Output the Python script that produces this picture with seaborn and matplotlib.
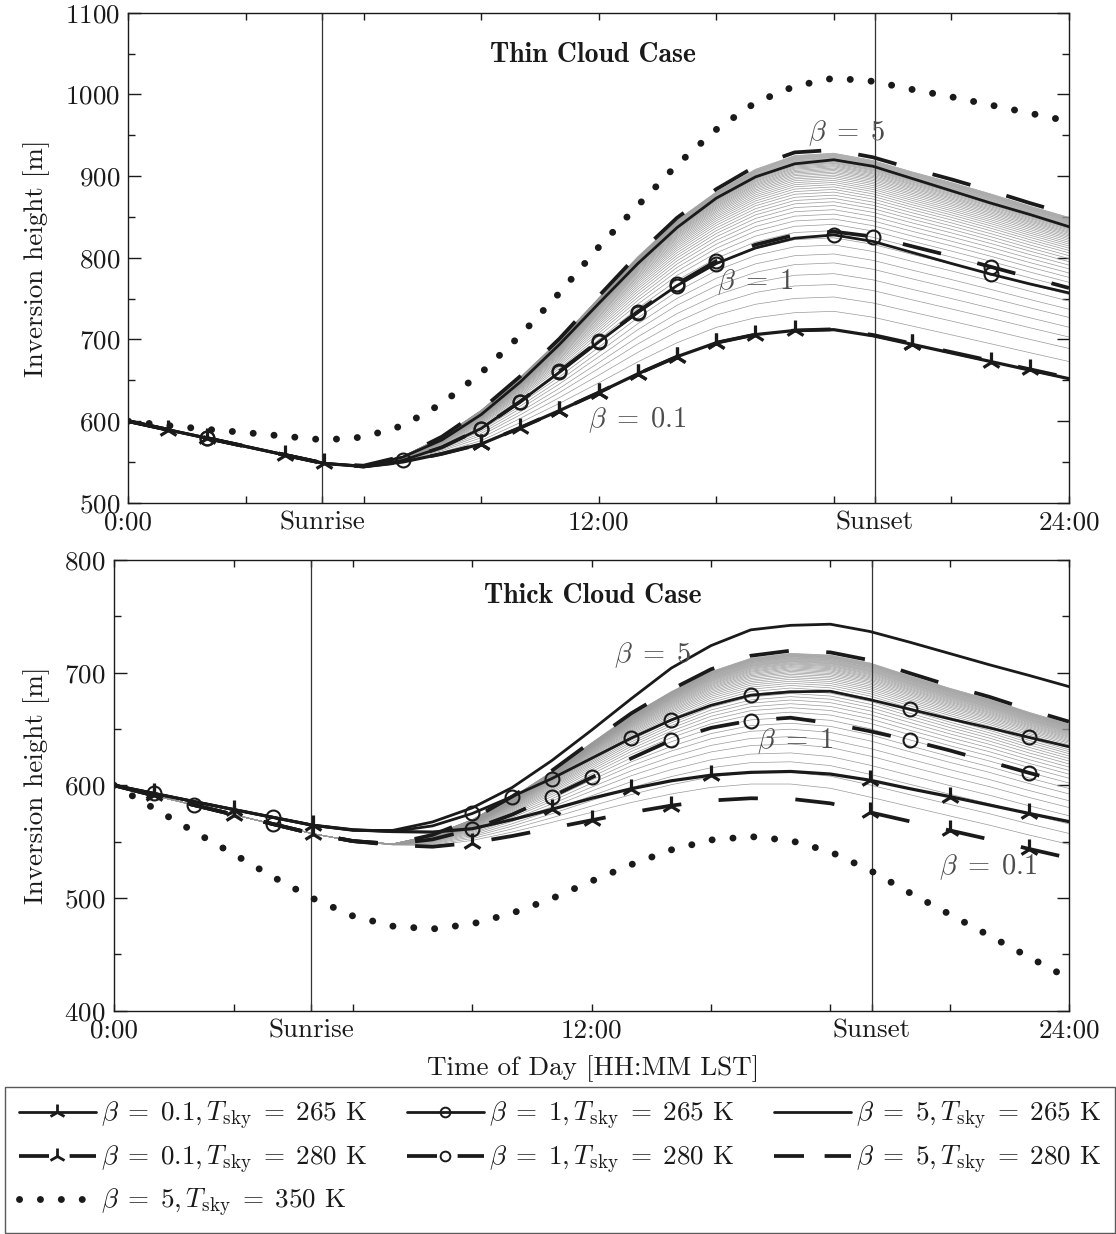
import matplotlib
matplotlib.use("Agg")
import matplotlib.pyplot as plt
from matplotlib.lines import Line2D
from matplotlib.ticker import MultipleLocator
import pandas as pd
import seaborn as sns

# ---------------- data ----------------
hours = list(range(25))
SUNRISE = 4.95
SUNSET = 19.04

# Thin cloud case
top_b01_265 = [600, 589.6, 579.3, 569, 558.6, 548.3, 544.5, 550, 560, 572, 592, 613, 635, 658, 679, 696, 706, 711, 712, 704.5, 694, 683.5, 673, 662.5, 652]
top_b01_280 = [600, 589.6, 579.3, 569, 558.6, 548.3, 544.5, 550, 560, 572, 592, 613, 635, 658, 679, 696, 706, 711, 712.5, 705.5, 695, 684.5, 674, 663.5, 653]
top_b1_265 = [600, 589.6, 579.3, 569, 558.6, 548.3, 544.5, 552, 568, 591, 624, 660, 697, 733, 766, 793, 812, 824, 828, 820, 806.5, 793, 780, 768, 757]
top_b1_280 = [600, 589.6, 579.3, 569, 558.6, 548.3, 544.5, 552, 568, 591, 624, 661, 698, 734, 768, 796, 816, 828, 832, 826, 814, 802, 789, 776, 763]
top_b5_265 = [600, 589.6, 579.3, 569, 558.6, 548.3, 545, 556, 577, 608, 648, 694, 744, 793, 837, 873, 899, 915, 920, 912, 897, 882, 867, 853, 838]
top_b5_280 = [600, 589.6, 579.3, 569, 558.6, 548.3, 545.5, 557, 581, 614, 655, 701, 753, 804, 849, 884, 912, 929, 932, 923, 909, 896, 882, 867, 853]
top_b5_350 = [600, 594.7, 590, 586, 581.5, 577, 580.5, 594.5, 621.5, 659, 705, 757, 813, 864, 914, 957, 990, 1010, 1020, 1016, 1006, 997, 987, 977, 967]

# Thick cloud case
bot_b01_265 = [600, 592.8, 585.6, 578.5, 571.5, 564.5, 560.5, 559, 558.5, 561.5, 569.5, 578.7, 588.5, 597, 604, 609, 611.5, 612.3, 610, 604.5, 597, 590, 582.5, 575, 567.8]
bot_b01_280 = [600, 591, 582.5, 574, 565.5, 557, 550.5, 547, 545.5, 549, 555, 562, 569, 576, 582, 586.5, 588.5, 588, 584, 576, 568, 560, 552, 543.5, 535.5]
bot_b1_265 = [600, 592.8, 585.6, 578.5, 571.5, 564.5, 560.5, 559, 564, 575, 590, 606, 624, 642, 658, 671, 680, 683, 683.5, 676, 667.5, 659, 651, 642.5, 634.3]
bot_b1_280 = [600, 591, 582.5, 574, 565.5, 557, 550.5, 548, 552, 561, 574, 590, 607, 624, 640, 651, 657.5, 660, 655, 648, 640, 631, 621, 611, 601.8]
bot_b5_265 = [600, 592.8, 585.6, 578.5, 571.5, 564.5, 560, 560, 567.5, 580, 598, 622, 649, 677, 704, 724, 738, 742, 743, 736.5, 727, 717, 707, 697.5, 687.6]
bot_b5_280 = [600, 591, 582.5, 574, 565.5, 557, 550.5, 548, 556, 570, 590, 613, 639, 664, 685, 703, 715, 719.5, 718, 711, 699.5, 688.5, 678.5, 667, 656.5]
bot_b5_350 = [600, 579.5, 559, 539, 518.5, 499.5, 484, 475, 472.5, 477, 486.5, 499.5, 515, 529.7, 542.7, 551.5, 554.5, 551, 541, 524.5, 504.5, 485.5, 466.5, 447.4, 428.5]

# intermediate beta = 0.2 ... 4.9 (T_sky = 280 K): relative position between beta=0.1 and beta=5
gray_frac = [0.10, 0.18, 0.25, 0.31, 0.37, 0.42, 0.47, 0.51, 0.55,
             0.585, 0.615, 0.642, 0.667, 0.690, 0.711, 0.730, 0.748, 0.765, 0.780,
             0.794, 0.807, 0.819, 0.830, 0.841, 0.851, 0.860, 0.869, 0.877, 0.885,
             0.892, 0.899, 0.906, 0.912, 0.918, 0.924, 0.929, 0.934, 0.939, 0.944,
             0.949, 0.953, 0.958, 0.962, 0.966, 0.970, 0.974, 0.978, 0.982]

legend_labels = [
    r"$\beta\;=\;0.1,T_{\mathrm{sky}}\;=\;265$ K",
    r"$\beta\;=\;0.1,T_{\mathrm{sky}}\;=\;280$ K",
    r"$\beta\;=\;5,T_{\mathrm{sky}}\;=\;350$ K",
    r"$\beta\;=\;1,T_{\mathrm{sky}}\;=\;265$ K",
    r"$\beta\;=\;1,T_{\mathrm{sky}}\;=\;280$ K",
    r"$\beta\;=\;5,T_{\mathrm{sky}}\;=\;265$ K",
    r"$\beta\;=\;5,T_{\mathrm{sky}}\;=\;280$ K",
]

# ---------------- style ----------------
sns.set_theme(style="ticks")
FS = 19.5
plt.rcParams.update({
    "font.family": "serif",
    "font.serif": ["cmr10"],
    "mathtext.fontset": "cm",
    "axes.formatter.use_mathtext": True,
    "axes.unicode_minus": False,
    "font.size": FS,
    "axes.edgecolor": "0.1",
    "axes.linewidth": 1.0,
    "xtick.color": "0.1",
    "ytick.color": "0.1",
    "text.color": "k",
    "axes.labelcolor": "k",
    "xtick.labelcolor": "k",
    "ytick.labelcolor": "k",
    "xtick.labelsize": FS,
    "ytick.labelsize": FS,
    "axes.labelsize": FS,
})

SOLID_LW = 2.0
DASH_LW = 2.7
DASH = (0, (10.5, 10))
DOT = (0, (0.01, 3.0))

tri = dict(marker="2", markersize=15, markeredgewidth=2.3, markeredgecolor="k")
circ = dict(marker="o", markersize=10, markeredgewidth=1.5, markeredgecolor="k",
            markerfacecolor="none")


def draw(ax, y, ls, lw, mk=None, every=None, z=3, cap=None):
    kw = dict(color="k", lw=lw, linestyle=ls, zorder=z)
    if mk is not None:
        kw.update(mk)
        kw["markevery"] = every
    if cap:
        kw["dash_capstyle"] = cap
    sns.lineplot(x=hours, y=y, ax=ax, estimator=None, errorbar=None, legend=False, **kw)


def panel(ax, c, evs, title, tpos, ylim, blabels):
    lo, hi = c["b01_280"], c["b5_280"]
    rows = []
    for i, f in enumerate(gray_frac):
        for t, a, b in zip(hours, lo, hi):
            rows.append((i, t, a + (b - a) * f))
    df = pd.DataFrame(rows, columns=["beta", "t", "h"])
    sns.lineplot(data=df, x="t", y="h", units="beta", estimator=None, color="0.6",
                 lw=0.5, ax=ax, zorder=1, legend=False)
    for xv in (SUNRISE, SUNSET):
        ax.axvline(xv, color="0.2", lw=0.9, zorder=1.5)
    draw(ax, c["b5_265"], "-", SOLID_LW)
    draw(ax, c["b5_280"], DASH, DASH_LW)
    draw(ax, c["b1_265"], "-", SOLID_LW, circ, evs["b1_265"])
    draw(ax, c["b1_280"], DASH, DASH_LW, circ, evs["b1_280"])
    draw(ax, c["b01_265"], "-", SOLID_LW + 0.3, tri, evs["b01_265"])
    draw(ax, c["b01_280"], DASH, DASH_LW, tri, evs["b01_280"])
    draw(ax, c["b5_350"], DOT, 5.0, cap="round")

    ax.set_xlim(0, 24)
    ax.set_ylim(*ylim)
    xt = [0, 3, SUNRISE, 6, 9, 12, 15, 18, SUNSET, 21, 24]
    xl = ["0:00", "", "Sunrise", "", "", "12:00", "", "", "Sunset", "", "24:00"]
    ax.set_xticks(xt)
    ax.set_xticklabels(xl)
    ax.yaxis.set_major_locator(MultipleLocator(100))
    ax.yaxis.set_minor_locator(MultipleLocator(50))
    ax.tick_params(which="both", direction="in", top=True, right=True, width=1.0, pad=6)
    ax.tick_params(axis="y", which="major", length=9)
    ax.tick_params(axis="y", which="minor", length=5)
    ax.tick_params(axis="x", which="major", length=5)
    for s in ax.spines.values():
        s.set_visible(True)
        s.set_linewidth(1.0)
    ax.set_xlabel("")
    ax.set_ylabel("Inversion height [m]")
    ax.text(tpos[0], tpos[1], title, transform=ax.transAxes, ha="center", va="center",
            family="cmb10", fontsize=FS + 0.5)
    for (bx, by, txt) in blabels:
        ax.text(bx, by, txt, color="0.3", ha="center", va="center", fontsize=FS + 1, zorder=5)


fig = plt.figure(figsize=(11.16, 12.34), dpi=100)
ax1 = fig.add_axes([0.1150, 0.5925, 0.8429, 0.3972])
ax2 = fig.add_axes([0.1024, 0.1810, 0.8555, 0.3652])

top = dict(b01_265=top_b01_265, b01_280=top_b01_280, b1_265=top_b1_265, b1_280=top_b1_280,
           b5_265=top_b5_265, b5_280=top_b5_280, b5_350=top_b5_350)
bot = dict(b01_265=bot_b01_265, b01_280=bot_b01_280, b1_265=bot_b1_265, b1_280=bot_b1_280,
           b5_265=bot_b5_265, b5_280=bot_b5_280, b5_350=bot_b5_350)

top_ev = dict(b01_265=[1, 4, 9, 10, 11, 12, 13, 14, 15, 16, 20, 22],
              b01_280=[2, 5, 9, 11, 12, 13, 14, 15, 17, 20, 23],
              b1_265=[2, 7, 9, 10, 11, 12, 13, 14, 15, 18, 22],
              b1_280=[2, 9, 10, 11, 12, 13, 14, 15, 19, 22])
bot_ev = dict(b01_265=[1, 3, 5, 11, 13, 15, 19, 21, 23],
              b01_280=[1, 3, 5, 9, 12, 14, 19, 21, 23],
              b1_265=[1, 4, 9, 10, 11, 13, 14, 16, 20, 23],
              b1_280=[2, 4, 9, 11, 12, 14, 16, 20, 23])

B5 = r"$\beta\;=\;5$"
B1 = r"$\beta\;=\;1$"
B01 = r"$\beta\;=\;0.1$"
panel(ax1, top, top_ev, "Thin Cloud Case", (0.494, 0.913), (500, 1100),
      [(18.33, 953, B5), (15.98, 770, B1), (12.98, 601.5, B01)])
panel(ax2, bot, bot_ev, "Thick Cloud Case", (0.501, 0.92), (400, 800),
      [(13.52, 715.7, B5), (17.11, 639.4, B1), (21.96, 527.6, B01)])

ax1.yaxis.set_label_coords(-0.0832, 0.5)
ax2.yaxis.set_label_coords(-0.0674, 0.5)
ax2.set_xlabel("Time of Day [HH:MM LST]")
ax2.xaxis.set_label_coords(0.5014, -0.098)

# legend (proxy handles)
LEG_DASH = (0, (8, 5.5))
handles = [
    Line2D([], [], color="k", lw=SOLID_LW, marker="2", markersize=12, markeredgewidth=2.0),
    Line2D([], [], color="k", lw=DASH_LW, linestyle=LEG_DASH, marker="2", markersize=12, markeredgewidth=2.0),
    Line2D([], [], color="k", lw=5.0, linestyle=DOT, dash_capstyle="round"),
    Line2D([], [], color="k", lw=SOLID_LW, marker="o", markersize=7, markeredgewidth=1.4, markerfacecolor="none"),
    Line2D([], [], color="k", lw=DASH_LW, linestyle=LEG_DASH, marker="o", markersize=7, markeredgewidth=1.4, markerfacecolor="white"),
    Line2D([], [], color="k", lw=SOLID_LW),
    Line2D([], [], color="k", lw=DASH_LW, linestyle=LEG_DASH),
]
leg = fig.legend(handles, legend_labels, ncol=3, loc="lower left",
                 bbox_to_anchor=(5 / 1116, 1 / 1234, 1110 / 1116, 150 / 1234),
                 mode="expand", fancybox=False, frameon=True, framealpha=1,
                 edgecolor="0.35", handlelength=2.85, handletextpad=0.2,
                 labelspacing=0.42, borderpad=0.5, borderaxespad=0.0,
                 fontsize=FS, numpoints=1)
leg.get_frame().set_linewidth(1.0)

fig.savefig("out.png", dpi=100)
